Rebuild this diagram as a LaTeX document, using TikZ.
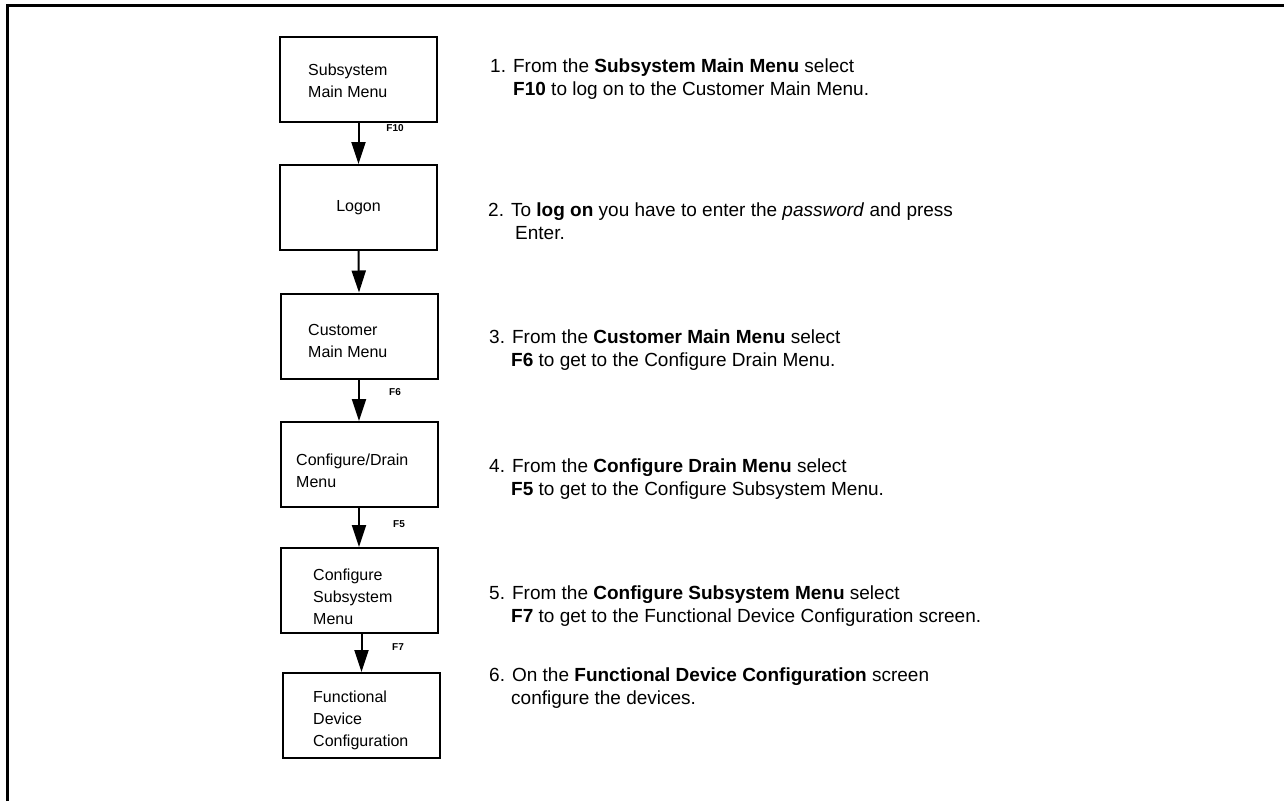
\documentclass[tikz,border=0pt]{standalone}
\usepackage{fontspec}
\setmainfont{Liberation Sans}
\usetikzlibrary{arrows.meta}
\begin{document}
\begin{tikzpicture}[x=1pt,y=-1pt,
  box/.style={draw, line width=2pt, minimum width=157pt, minimum height=85pt, inner sep=0pt},
  btxt/.style={font=\fontsize{16}{22}\selectfont, align=left, anchor=west, inner sep=0pt},
  flow/.style={line width=2pt, -{Triangle[length=22pt,width=14pt]}},
  fkey/.style={font=\fontsize{10}{12}\selectfont\bfseries, inner sep=0pt},
  itemtxt/.style={font=\fontsize{19}{23}\selectfont, align=left, anchor=west, inner sep=0pt},
  frame/.style={line width=2.5pt}
]
\useasboundingbox (0,0) rectangle (1284,801);
\coordinate (fa) at (7.5,801);
\coordinate (fb) at (7.5,5.5);
\coordinate (fc) at (1284,5.5);
\draw[frame] (fa) -- (fb) -- (fc);

% boxes
\node[box] (b1) at (358.5,79) {};
\node[box] (b2) at (358.5,207.5) {};
\node[box] (b3) at (359,336) {};
\node[box] (b4) at (359,464.5) {};
\node[box] (b5) at (359,590.5) {};
\node[box] (b6) at (361.5,715.5) {};

% box texts
\node[btxt] (b1t) at (308,81) {Subsystem\\Main Menu};
\node[font=\fontsize{16}{22}\selectfont, inner sep=0pt] (b2t) at (b2.center) {Logon};
\node[btxt] (b3t) at (308,341) {Customer\\Main Menu};
\node[btxt] (b4t) at (296,471) {Configure/Drain\\Menu};
\node[btxt] (b5t) at (313,597) {Configure\\Subsystem\\Menu};
\node[btxt] (b6t) at (313,720) {Functional\\Device\\Configuration};

% connectors
\draw[flow] (b1.south) -- (b2.north);
\draw[flow] (b2.south) -- (b3.north);
\draw[flow] (b3.south) -- (b4.north);
\draw[flow] (b4.south) -- (b5.north);
\draw[flow] (b6.north |- b5.south) -- (b6.north);

% key labels
\node[fkey] (k1) at (395,128) {F10};
\node[fkey] (k3) at (395,392) {F6};
\node[fkey] (k4) at (399,524) {F5};
\node[fkey] (k5) at (398,647) {F7};

% step descriptions
\node[itemtxt] (t1) at (490,79) {1. From the \textbf{Subsystem Main Menu} select\\\hspace*{23pt}\textbf{F10} to log on to the Customer Main Menu.};
\node[itemtxt] (t2) at (488,221.5) {2. To \textbf{log on} you have to enter the \textit{password} and press\\\hspace*{27pt}Enter.};
\node[itemtxt] (t3) at (489,350) {3. From the \textbf{Customer Main Menu} select\\\hspace*{22pt}\textbf{F6} to get to the Configure Drain Menu.};
\node[itemtxt] (t4) at (489,479) {4. From the \textbf{Configure Drain Menu} select\\\hspace*{22pt}\textbf{F5} to get to the Configure Subsystem Menu.};
\node[itemtxt] (t5) at (489,606) {5. From the \textbf{Configure Subsystem Menu} select\\\hspace*{22pt}\textbf{F7} to get to the Functional Device Configuration screen.};
\node[itemtxt] (t6) at (489,688) {6. On the \textbf{Functional Device Configuration} screen\\\hspace*{22pt}configure the devices.};
\end{tikzpicture}
\end{document}
